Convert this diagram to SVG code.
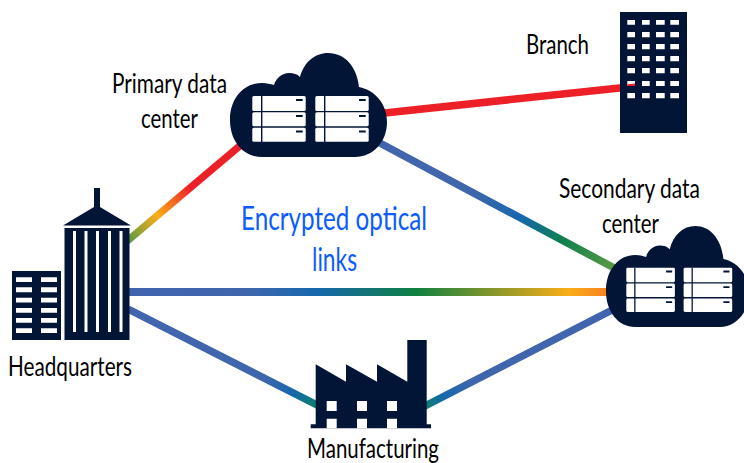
<svg xmlns="http://www.w3.org/2000/svg" xmlns:xlink="http://www.w3.org/1999/xlink" width="744" height="463" viewBox="0 0 744 463">
<style>
.d{fill:#021536}
.w{fill:#fff}
.c{fill:none;stroke-width:7.5}
.t{font-family:"Lato","Liberation Sans",sans-serif;font-size:27px;fill:#000}
.b{font-size:32px;fill:#0a5cff}
</style>
<defs>
<linearGradient id="g1" gradientUnits="userSpaceOnUse" x1="128" y1="240" x2="240" y2="145"><stop offset="0" stop-color="#5b9a44"/><stop offset=".26" stop-color="#fbad18"/><stop offset=".46" stop-color="#f04e23"/><stop offset=".55" stop-color="#ee2027"/><stop offset="1" stop-color="#ee2027"/></linearGradient>
<linearGradient id="g2" gradientUnits="userSpaceOnUse" x1="380" y1="143" x2="615" y2="268"><stop offset="0" stop-color="#4264ae"/><stop offset=".4" stop-color="#3f66ad"/><stop offset=".6" stop-color="#1667ae"/><stop offset=".77" stop-color="#0e7f4f"/><stop offset="1" stop-color="#5b9a44"/></linearGradient>
<linearGradient id="g3" gradientUnits="userSpaceOnUse" x1="130" y1="292" x2="607" y2="292"><stop offset="0" stop-color="#4264ae"/><stop offset=".25" stop-color="#3f66ad"/><stop offset=".39" stop-color="#1667ae"/><stop offset=".6" stop-color="#0f8040"/><stop offset=".92" stop-color="#fbad18"/><stop offset="1" stop-color="#f58220"/></linearGradient>
<linearGradient id="g4" gradientUnits="userSpaceOnUse" x1="130" y1="309" x2="316" y2="403"><stop offset="0" stop-color="#4264ae"/><stop offset=".72" stop-color="#3f66ad"/><stop offset=".88" stop-color="#1667ae"/><stop offset="1" stop-color="#0b7f70"/></linearGradient>
<linearGradient id="g5" gradientUnits="userSpaceOnUse" x1="425" y1="405" x2="612" y2="309"><stop offset="0" stop-color="#0b7f70"/><stop offset=".1" stop-color="#1667ae"/><stop offset=".25" stop-color="#3f66ad"/><stop offset="1" stop-color="#4264ae"/></linearGradient>
<g id="cloud">
<path class="d" d="M262 157C243 157 230 141 230 120C230 98 244 83 262 83C267 83 270 84 274 85C276 78 282 73 289 73C294 73 297 74 300 77C304 62 315 53 328 53C345 53 357 67 359 87C375 90 387 104 387 122C387 142 373 157 355 157Z"/>
<g id="rack">
<rect class="w" x="252.3" y="96" width="53.4" height="15" rx="1.5"/>
<rect class="w" x="252.3" y="112.3" width="53.4" height="14" rx="1.5"/>
<rect class="w" x="252.3" y="127.7" width="53.4" height="14" rx="1.5"/>
<path class="d" d="M261 96h1.4v46h-1.4zM296 99h6.7v2h-6.700zM296 115h6.700v2h-6.700zM296 130.500h6.700v2h-6.700z"/>
</g>
<use xlink:href="#rack" href="#rack" x="63"/>
</g>
</defs>
<g id="connectors">
<line class="c" x1="126" y1="242" x2="242" y2="144" stroke="url(#g1)"/>
<line class="c" x1="380" y1="113.500" x2="622" y2="87.700" stroke="#ee2027"/>
<line class="c" x1="378" y1="142" x2="618" y2="270" stroke="url(#g2)"/>
<line class="c" x1="128" y1="292" x2="610" y2="292" stroke="url(#g3)" style="stroke-width:8"/>
<line class="c" x1="128" y1="309" x2="318" y2="405.500" stroke="url(#g4)"/>
<line class="c" x1="423" y1="407" x2="614" y2="309" stroke="url(#g5)"/>
</g>
<g id="headquarters">
<rect class="d" x="12" y="271" width="49" height="69"/>
<path class="w" d="M16 277.300h16v4.700H16zM41 277.300h16v4.700H41zM16 287.300h16v5H16zM41 287.300h16v5H41zM16 297.700h16v4.700H16zM41 297.700h16v4.700H41zM16 308h16v4.700H16zM41 308h16v4.700H41zM16 318h16v4.700H16zM41 318h16v4.700H41zM16 328.300h16v4.700H16zM41 328.300h16v4.700H41z"/>
<rect class="d" x="64.500" y="228" width="65" height="112"/>
<path class="d" d="M63 225.500L94 207V188h6v19L131 225.500Z"/>
<path class="w" d="M73 231h3v101h-3zM84.500 231h3v101h-3zM96 231h3v101h-3zM108 231h3v101h-3zM119.500 231h3v101h-3z"/>
<text class="t" x="8" y="376" textLength="124" lengthAdjust="spacingAndGlyphs">Headquarters</text>
</g>
<g id="primary">
<use xlink:href="#cloud" href="#cloud"/>
<text class="t" x="112" y="93" textLength="115" lengthAdjust="spacingAndGlyphs">Primary data</text>
<text class="t" x="141" y="128" textLength="57" lengthAdjust="spacingAndGlyphs">center</text>
</g>
<g id="branch">
<rect class="d" x="620" y="12" width="67" height="121"/>
<path class="w" d="M627.300 20h7.700v4.700h-7.700zM642 20h7.700v4.700H642zM656 20h8.700v4.700H656zM670.300 20h8.700v4.700h-8.700zM627.300 32h7.700v5.300h-7.700zM642 32h7.700v5.300H642zM656 32h8.700v5.300H656zM670.300 32h8.700v5.300h-8.700zM627.300 44h7.700v5.300h-7.700zM642 44h7.700v5.300H642zM656 44h8.700v5.300H656zM670.300 44h8.700v5.300h-8.700zM627.300 56h7.700v5.300h-7.700zM642 56h7.700v5.300H642zM656 56h8.700v5.300H656zM670.300 56h8.700v5.300h-8.700zM627.300 68h7.700v5.300h-7.700zM642 68h7.700v5.300H642zM656 68h8.700v5.300H656zM670.300 68h8.700v5.300h-8.700zM627.300 81h7.700v5h-7.700zM642 81h7.700v5H642zM656 81h8.700v5H656zM670.300 81h8.700v5h-8.700zM627.300 93h7.700v5.300h-7.700zM642 93h7.700v5.300H642zM656 93h8.700v5.300H656zM670.300 93h8.700v5.300h-8.700z"/>
<path fill="#ee2027" d="M627.300 84.300L635 83.500V86H627.300Z"/>
<text class="t" x="526" y="54" textLength="63" lengthAdjust="spacingAndGlyphs">Branch</text>
</g>
<g id="secondary">
<use xlink:href="#cloud" href="#cloud" transform="translate(606 226) scale(.91 .97) translate(-230 -53)"/>
<text class="t" x="559" y="198" textLength="141" lengthAdjust="spacingAndGlyphs">Secondary data</text>
<text class="t" x="602" y="233" textLength="57" lengthAdjust="spacingAndGlyphs">center</text>
</g>
<g id="manufacturing">
<path class="d" d="M315.700 364.300L346 381.700V364.300L377 381.700V364.300L407.300 381.700V340H426.700V424.300H431V428.300H310.700V424.300H315.700Z"/>
<path class="w" d="M326.700 401h10v10h-10zM357 401h10v10h-10zM387 401h10v10h-10zM326.700 418.700h10v9.600h-10zM357 418.700h10v9.600h-10zM387 418.700h10v9.600h-10z"/>
<text class="t" x="307" y="457.500" style="font-size:26px" textLength="132" lengthAdjust="spacingAndGlyphs">Manufacturing</text>
</g>
<g id="label">
<text class="t b" x="241" y="230" textLength="186" lengthAdjust="spacingAndGlyphs">Encrypted optical</text>
<text class="t b" x="312" y="271" textLength="45" lengthAdjust="spacingAndGlyphs">links</text>
</g>
</svg>
